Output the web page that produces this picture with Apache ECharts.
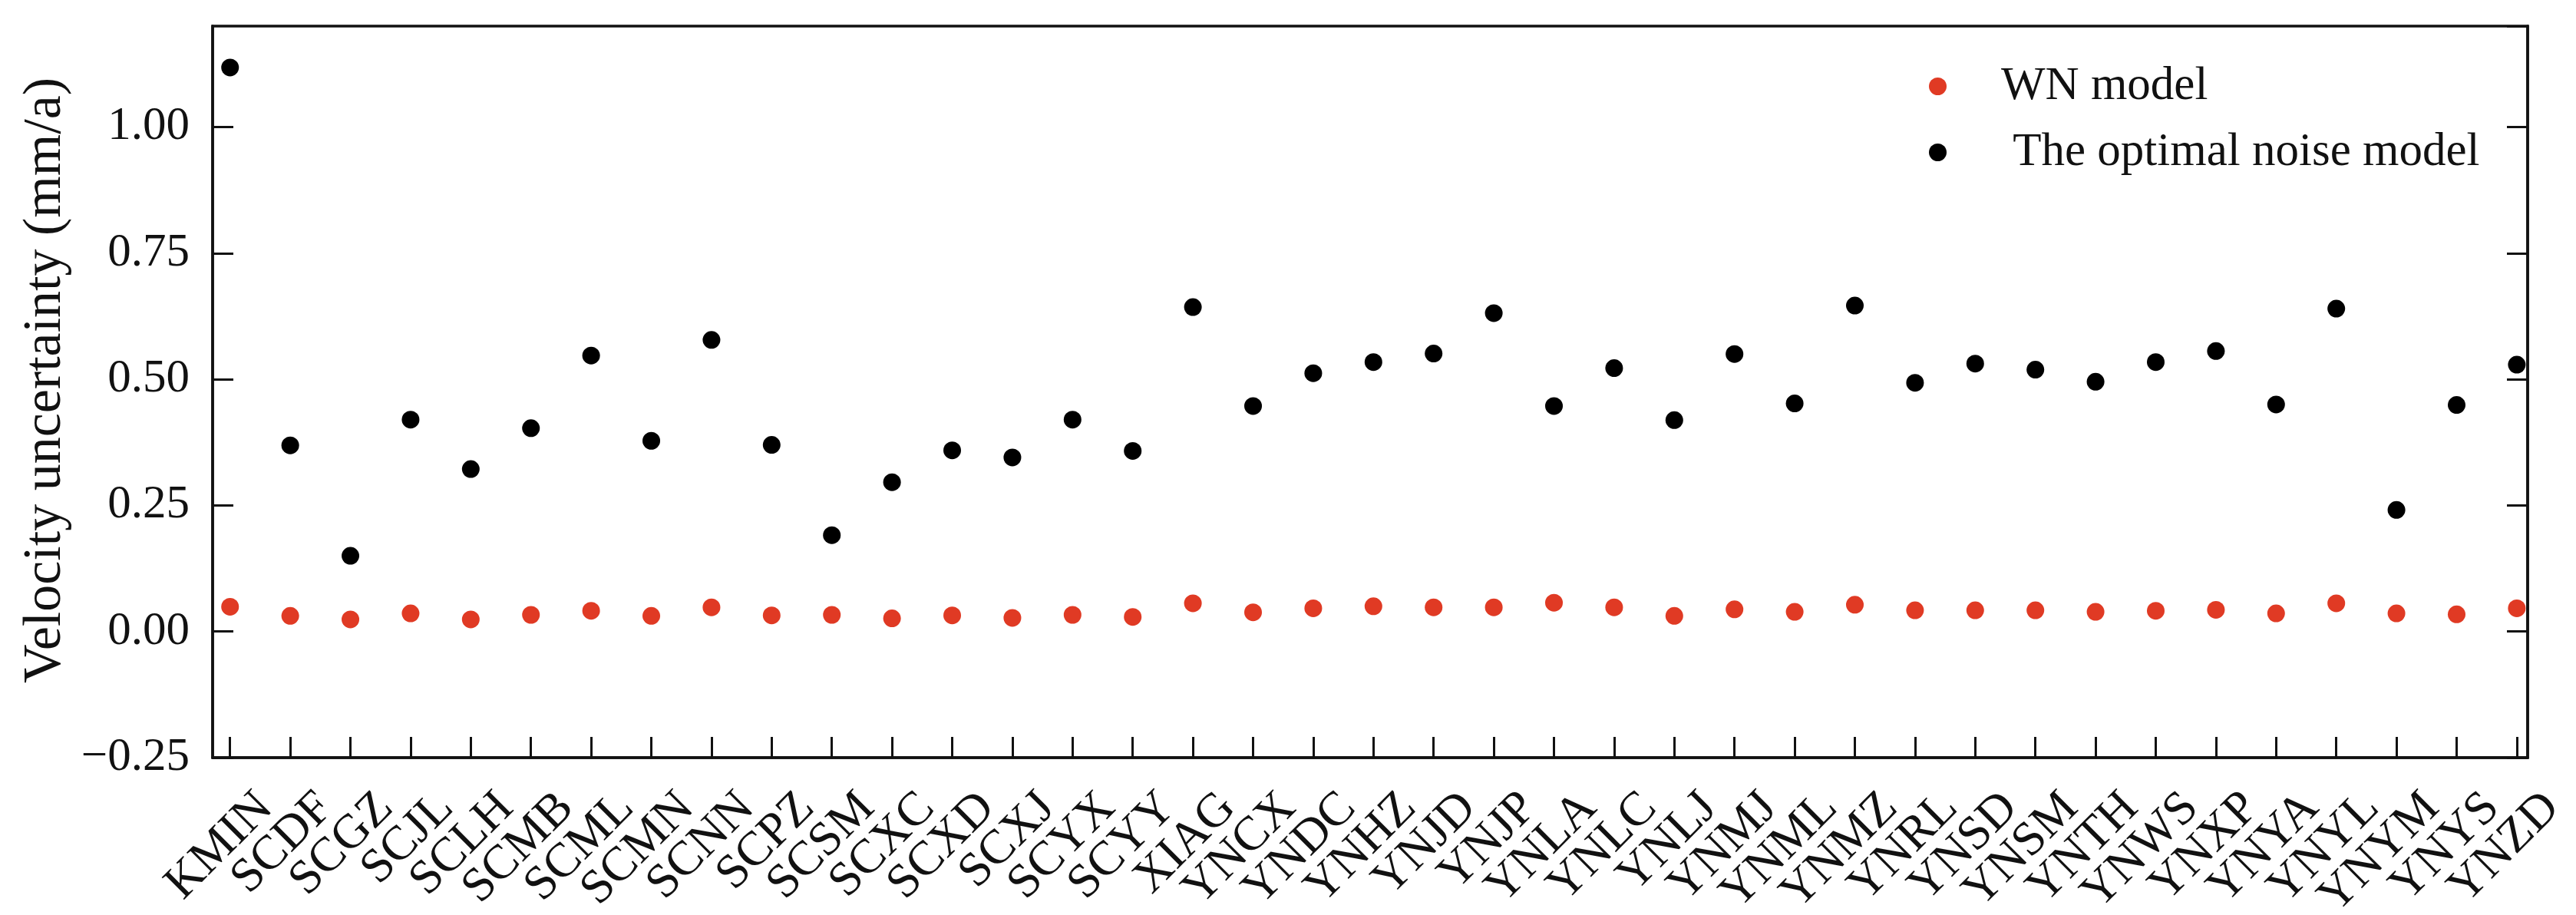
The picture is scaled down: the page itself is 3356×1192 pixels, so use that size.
<!DOCTYPE html>
<html>
<head>
<meta charset="utf-8">
<title>Velocity uncertainty</title>
<script src="https://cdn.jsdelivr.net/npm/echarts@6/dist/echarts.min.js"></script>
<style>
  html, body { margin: 0; padding: 0; background: #fff; }
  #chart { width: 3356px; height: 1192px; }
</style>
</head>
<body>
<div id="chart"></div>
<script>
// stations on the x axis
const stations = ['KMIN', 'SCDF', 'SCGZ', 'SCJL', 'SCLH', 'SCMB', 'SCML', 'SCMN', 'SCNN', 'SCPZ',
  'SCSM', 'SCXC', 'SCXD', 'SCXJ', 'SCYX', 'SCYY', 'XIAG', 'YNCX', 'YNDC', 'YNHZ',
  'YNJD', 'YNJP', 'YNLA', 'YNLC', 'YNLJ', 'YNMJ', 'YNML', 'YNMZ', 'YNRL', 'YNSD',
  'YNSM', 'YNTH', 'YNWS', 'YNXP', 'YNYA', 'YNYL', 'YNYM', 'YNYS', 'YNZD'];

// velocity uncertainty (mm/a)
const wnModel = [0.049, 0.031, 0.024, 0.036, 0.024, 0.033, 0.041, 0.031, 0.048, 0.032,
  0.033, 0.026, 0.032, 0.027, 0.033, 0.029, 0.056, 0.038, 0.046, 0.050,
  0.048, 0.048, 0.057, 0.048, 0.031, 0.044, 0.039, 0.053, 0.042, 0.042,
  0.042, 0.039, 0.041, 0.043, 0.036, 0.056, 0.036, 0.034, 0.046];
const optimalModel = [1.118, 0.369, 0.150, 0.420, 0.322, 0.403, 0.547, 0.378, 0.578, 0.370,
  0.191, 0.296, 0.359, 0.345, 0.420, 0.358, 0.643, 0.447, 0.512, 0.534,
  0.551, 0.631, 0.447, 0.522, 0.419, 0.550, 0.452, 0.646, 0.493, 0.531,
  0.519, 0.495, 0.534, 0.556, 0.450, 0.640, 0.241, 0.449, 0.529];

const seriesNames = ['WN model', ' The optimal noise model'];
const yTicks = { min: -0.25, max: 1.2, interval: 0.25 };
const xRange = { min: -0.29, max: 38.18 };

const font = 'Liberation Serif';
const ink = '#111';
// axis ends are added so ECharts' min/max label check only drops those two empty slots
const xStops = [xRange.min, ...stations.map((_, i) => i), xRange.max];

const chart = echarts.init(document.getElementById('chart'));
chart.setOption({
  animation: false,
  textStyle: { fontFamily: font },
  grid: {
    left: 277, right: 63, top: 34, bottom: 205,
    outerBoundsMode: 'none',
    show: true, borderColor: ink, borderWidth: 3.5
  },
  legend: {
    orient: 'vertical', left: 2508, top: 77, padding: 5,
    icon: 'circle', itemWidth: 23, itemHeight: 23, itemGap: 25,
    textStyle: { fontFamily: font, fontSize: 61, color: ink, lineHeight: 60, padding: [0, 0, 0, 66] },
    data: seriesNames
  },
  xAxis: {
    type: 'value', ...xRange,
    splitLine: { show: false },
    axisLine: { show: true, onZero: false, lineStyle: { color: ink, width: 3.5 } },
    axisTick: { show: true, inside: true, length: 27, customValues: xStops, lineStyle: { color: ink, width: 3 } },
    axisLabel: {
      customValues: xStops, rotate: 45, margin: 10,
      showMinLabel: false, showMaxLabel: false, hideOverlap: false,
      align: 'right', verticalAlign: 'top', lineHeight: 130,
      fontFamily: font, fontSize: 63, color: ink,
      formatter: v => stations[v] || ''
    }
  },
  yAxis: [{
    type: 'value', ...yTicks,
    name: 'Velocity uncertainty (mm/a)', nameLocation: 'middle', nameGap: 180,
    nameTextStyle: { fontFamily: font, fontSize: 70, color: ink, padding: [0, 0, 0, 30] },
    splitLine: { show: false },
    axisLine: { show: true, onZero: false, lineStyle: { color: ink, width: 3.5 } },
    axisTick: { show: true, inside: true, length: 27, lineStyle: { color: ink, width: 3 } },
    axisLabel: {
      showMaxLabel: false, margin: 30,
      fontFamily: font, fontSize: 61, color: ink,
      formatter: v => v.toFixed(2).replace('-', '\u2212')
    }
  }, {
    // mirrored ticks on the right edge
    type: 'value', position: 'right', ...yTicks,
    splitLine: { show: false },
    axisLine: { show: true, onZero: false, lineStyle: { color: ink, width: 3.5 } },
    axisTick: { show: true, inside: true, length: 27, lineStyle: { color: ink, width: 3 } },
    axisLabel: { show: false }
  }],
  series: [{
    name: seriesNames[0], type: 'scatter', symbol: 'circle', symbolSize: 23,
    itemStyle: { color: '#e03a24', opacity: 1 },
    data: wnModel.map((v, i) => [i, v])
  }, {
    name: seriesNames[1], type: 'scatter', symbol: 'circle', symbolSize: 23,
    itemStyle: { color: '#000', opacity: 1 },
    data: optimalModel.map((v, i) => [i, v])
  }]
});
</script>
</body>
</html>
